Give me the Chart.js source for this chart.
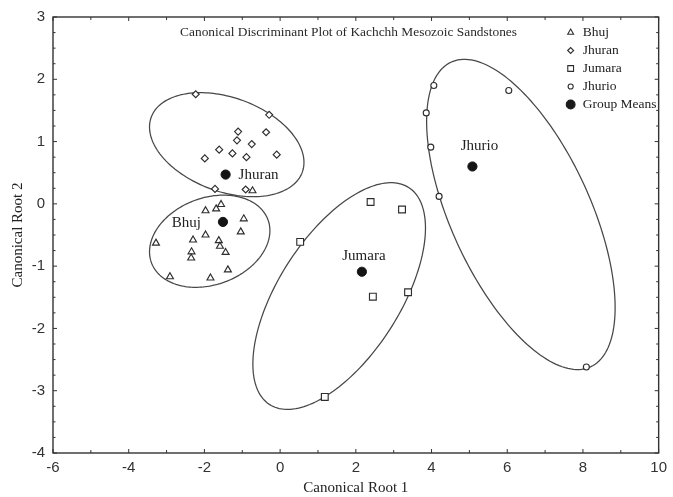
<!DOCTYPE html>
<html lang="en">
<head>
<meta charset="UTF-8" />
<title>Canonical Discriminant Plot of Kachchh Mesozoic Sandstones</title>
<script src="https://cdn.jsdelivr.net/npm/chart.js@4.4.0/dist/chart.umd.min.js"></script>
<style>
  body { margin: 0; background: #ffffff; }
  .chart-box { position: relative; width: 673px; height: 497px; }
</style>
</head>
<body>
<div class="chart-box"><canvas id="cdaChart" width="673" height="497"></canvas></div>
<script>
// sandstone groups
const groups = ["Bhuj", "Jhuran", "Jumara", "Jhurio"];

// sample scores: root 1 (x) and root 2 (y)
const bhujRoot1 = [-0.73, -1.97, -1.69, -1.56, -0.96, -1.04, -1.97, -2.30, -1.62, -1.59, -1.44, -2.34, -2.35, -3.28, -1.38, -2.91, -1.84];
const bhujRoot2 = [0.21, -0.11, -0.08, -0.01, -0.24, -0.45, -0.50, -0.58, -0.59, -0.68, -0.78, -0.77, -0.87, -0.63, -1.06, -1.17, -1.19];

const jhuranRoot1 = [-2.23, -0.29, -1.11, -0.37, -1.14, -0.75, -1.61, -1.26, -0.09, -0.89, -1.99, -1.72, -0.91];
const jhuranRoot2 = [1.76, 1.43, 1.16, 1.15, 1.02, 0.96, 0.87, 0.81, 0.79, 0.75, 0.73, 0.24, 0.23];

const jumaraRoot1 = [2.39, 3.22, 0.53, 2.45, 3.38, 1.18];
const jumaraRoot2 = [0.03, -0.09, -0.61, -1.49, -1.42, -3.10];

const jhurioRoot1 = [4.06, 6.04, 3.86, 3.98, 4.20, 8.09];
const jhurioRoot2 = [1.90, 1.82, 1.46, 0.91, 0.12, -2.62];

// group centroids, same order as groups
const meansRoot1 = [-1.51, -1.44, 2.16, 5.08];
const meansRoot2 = [-0.29, 0.47, -1.09, 0.60];

// confidence ellipses (data units): centre, spread along each root, correlation
const ellipseCx = [-1.86, -1.41, 1.56, 6.36];
const ellipseCy = [-0.60, 0.95, -1.48, -0.17];
const ellipseSx = [1.59, 2.04, 2.28, 2.49];
const ellipseSy = [0.74, 0.835, 1.82, 2.49];
const ellipseR = [0.23, -0.34, 0.60, -0.60];

function toPoints(xs, ys) {
  return xs.map((x, i) => ({ x: x, y: ys[i] }));
}

const markerStyles = {
  Bhuj: { pointStyle: "triangle", radius: 4 },
  Jhuran: { pointStyle: "rectRot", radius: 3.5 },
  Jumara: { pointStyle: "rect", radius: 4.8 },
  Jhurio: { pointStyle: "circle", radius: 3 },
  "Group Means": { pointStyle: "circle", radius: 4.6 },
};

function groupDataset(label, xs, ys) {
  return {
    label: label,
    data: toPoints(xs, ys),
    pointStyle: markerStyles[label].pointStyle,
    pointRadius: markerStyles[label].radius,
    pointBackgroundColor: "#ffffff",
    pointBorderColor: "#2e2e2e",
    pointBorderWidth: 1.15,
  };
}

const serif = "'Liberation Serif', 'Times New Roman', serif";
const sans = "'Liberation Sans', Arial, sans-serif";

// ellipses drawn through the chart scales
const ellipsePlugin = {
  id: "ellipses",
  beforeDatasetsDraw(chart) {
    const ctx = chart.ctx;
    const xs = chart.scales.x;
    const ys = chart.scales.y;
    ctx.save();
    ctx.strokeStyle = "#474747";
    ctx.lineWidth = 1.25;
    for (let i = 0; i < ellipseCx.length; i++) {
      const k = Math.sqrt(1 - ellipseR[i] * ellipseR[i]);
      ctx.beginPath();
      for (let s = 0; s <= 180; s++) {
        const t = (s / 180) * Math.PI * 2;
        const vx = ellipseCx[i] + ellipseSx[i] * Math.cos(t);
        const vy = ellipseCy[i] + ellipseSy[i] * (ellipseR[i] * Math.cos(t) + k * Math.sin(t));
        const px = xs.getPixelForValue(vx);
        const py = ys.getPixelForValue(vy);
        if (s === 0) ctx.moveTo(px, py);
        else ctx.lineTo(px, py);
      }
      ctx.closePath();
      ctx.stroke();
    }
    ctx.restore();
  },
};

// frame, inward tick marks, title, group labels and legend
const decorPlugin = {
  id: "decor",
  afterDatasetsDraw(chart) {
    const ctx = chart.ctx;
    const area = chart.chartArea;
    const xs = chart.scales.x;
    const ys = chart.scales.y;
    ctx.save();

    // frame
    ctx.strokeStyle = "#333333";
    ctx.lineWidth = 1.4;
    ctx.strokeRect(area.left, area.top, area.right - area.left, area.bottom - area.top);

    // tick marks
    ctx.lineWidth = 1;
    ctx.beginPath();
    for (let v = -6; v <= 10; v++) {
      const px = xs.getPixelForValue(v);
      const len = v % 2 === 0 ? 4 : 3;
      ctx.moveTo(px, area.bottom);
      ctx.lineTo(px, area.bottom - len);
      ctx.moveTo(px, area.top);
      ctx.lineTo(px, area.top + len);
    }
    for (let v = -4; v <= 3.001; v += 0.25) {
      const py = ys.getPixelForValue(v);
      const len = Math.abs(v - Math.round(v)) < 0.01 ? 4 : 2.5;
      ctx.moveTo(area.left, py);
      ctx.lineTo(area.left + len, py);
      ctx.moveTo(area.right, py);
      ctx.lineTo(area.right - len, py);
    }
    ctx.stroke();

    // title inside the plot
    ctx.fillStyle = "#2a2a2a";
    ctx.font = "13.4px " + serif;
    ctx.textAlign = "center";
    ctx.textBaseline = "middle";
    ctx.fillText("Canonical Discriminant Plot of Kachchh Mesozoic Sandstones",
      area.left + (area.right - area.left) * 0.488, area.top + 15);

    // group labels next to centroids
    const meanMeta = chart.getDatasetMeta(4);
    const labelPos = {
      Bhuj: { dx: -22, dy: 1, align: "right" },
      Jhuran: { dx: 13, dy: 0, align: "left" },
      Jumara: { dx: 2, dy: -16, align: "center" },
      Jhurio: { dx: 7, dy: -20, align: "center" },
    };
    ctx.font = "15px " + serif;
    ctx.fillStyle = "#222222";
    groups.forEach((g, i) => {
      const el = meanMeta.data[i];
      const p = labelPos[g];
      ctx.textAlign = p.align;
      ctx.fillText(g, el.x + p.dx, el.y + p.dy);
    });

    // legend
    const legendItems = groups.concat(["Group Means"]);
    ctx.font = "13.5px " + serif;
    ctx.textAlign = "left";
    legendItems.forEach((name, i) => {
      const y = area.top + 15.5 + i * 18;
      const x = area.right - 88;
      const st = markerStyles[name];
      const filled = name === "Group Means";
      ctx.fillStyle = filled ? "#1a1a1a" : "#ffffff";
      ctx.strokeStyle = filled ? "#1a1a1a" : "#2e2e2e";
      ctx.lineWidth = 1.1;
      Chart.helpers.drawPoint(ctx, {
        pointStyle: st.pointStyle,
        radius: filled ? 4.4 : st.radius * 0.85,
        rotation: 0,
        borderWidth: 1,
      }, x, y);
      ctx.fillStyle = "#222222";
      ctx.fillText(name, area.right - 76, y);
    });

    ctx.restore();
  },
};

new Chart(document.getElementById("cdaChart"), {
  type: "scatter",
  data: {
    datasets: [
      groupDataset("Bhuj", bhujRoot1, bhujRoot2),
      groupDataset("Jhuran", jhuranRoot1, jhuranRoot2),
      groupDataset("Jumara", jumaraRoot1, jumaraRoot2),
      groupDataset("Jhurio", jhurioRoot1, jhurioRoot2),
      {
        label: "Group Means",
        data: toPoints(meansRoot1, meansRoot2),
        pointStyle: "circle",
        pointRadius: markerStyles["Group Means"].radius,
        pointBackgroundColor: "#141414",
        pointBorderColor: "#141414",
        pointBorderWidth: 1,
      },
    ],
  },
  options: {
    responsive: false,
    animation: false,
    layout: { padding: { top: 15, right: 10, left: 0, bottom: 0 } },
    plugins: {
      legend: { display: false },
      tooltip: { enabled: false },
    },
    scales: {
      x: {
        type: "linear",
        min: -6,
        max: 10,
        ticks: {
          stepSize: 2,
          padding: 6,
          maxRotation: 0,
          color: "#333333",
          font: { family: sans, size: 15 },
        },
        grid: { display: false, drawTicks: false },
        border: { display: false },
        title: {
          display: true,
          text: "Canonical Root 1",
          color: "#222222",
          font: { family: serif, size: 15 },
          padding: { top: 0, bottom: 0 },
        },
        afterFit(scale) { scale.height = 44; },
      },
      y: {
        type: "linear",
        min: -4,
        max: 3,
        ticks: {
          stepSize: 1,
          padding: 8,
          color: "#333333",
          font: { family: sans, size: 15 },
        },
        grid: { display: false, drawTicks: false },
        border: { display: false },
        title: {
          display: true,
          text: "Canonical Root 2",
          color: "#222222",
          font: { family: serif, size: 15 },
          padding: { top: 9, bottom: 0 },
        },
        afterFit(scale) { scale.width = 53; },
      },
    },
  },
  plugins: [ellipsePlugin, decorPlugin],
});
</script>
</body>
</html>
